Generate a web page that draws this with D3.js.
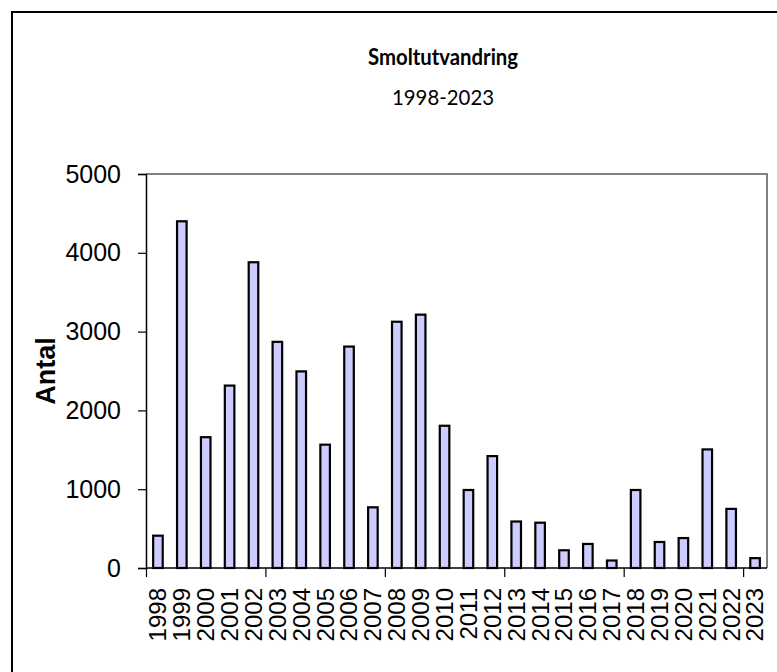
<!DOCTYPE html>
<html>
<head>
<meta charset="utf-8">
<script src="https://cdn.jsdelivr.net/npm/d3@7"></script>
<style>
  html, body { margin: 0; padding: 0; background: #fff; }
  svg { display: block; }
</style>
</head>
<body>
<svg id="chart" width="777" height="672"></svg>
<script>
const years = ["1998","1999","2000","2001","2002","2003","2004","2005","2006","2007","2008","2009","2010",
               "2011","2012","2013","2014","2015","2016","2017","2018","2019","2020","2021","2022","2023"];
const smolts = [410, 4400, 1660, 2315, 3880, 2870, 2495, 1565, 2810, 770, 3125, 3215, 1805,
                990, 1420, 590, 575, 225, 305, 95, 990, 330, 380, 1505, 750, 125];
const yTicks = [0, 1000, 2000, 3000, 4000, 5000];
const titleText = "Smoltutvandring";
const subtitleText = "1998-2023";
const yLabel = "Antal";

const svg = d3.select("#chart");
const plot = { left: 146, right: 767, top: 174, bottom: 568 };

// outer frame
svg.append("rect")
  .attr("x", 12).attr("y", 12).attr("width", 800).attr("height", 700)
  .attr("fill", "#fff").attr("stroke", "#000").attr("stroke-width", 2);

// titles
svg.append("text")
  .attr("x", 443).attr("y", 65)
  .attr("text-anchor", "middle")
  .attr("font-family", "Lato, 'Open Sans', sans-serif")
  .attr("font-weight", "bold").attr("font-size", 22)
  .attr("textLength", 150).attr("lengthAdjust", "spacingAndGlyphs")
  .text(titleText);
svg.append("text")
  .attr("x", 443).attr("y", 105)
  .attr("text-anchor", "middle")
  .attr("font-family", "Lato, 'Open Sans', sans-serif")
  .attr("font-size", 22)
  .attr("textLength", 102).attr("lengthAdjust", "spacingAndGlyphs")
  .text(subtitleText);

const x = d3.scaleBand().domain(years).range([plot.left, plot.right]).paddingInner(0.6).paddingOuter(0.3);
const xLin = d3.scaleLinear().domain([0, years.length]).range([plot.left, plot.right]);
const y = d3.scaleLinear().domain([0, 5000]).range([plot.bottom, plot.top]);

// plot frame (top & right gray)
svg.append("path")
  .attr("d", `M${plot.left},${plot.top}H${plot.right}V${plot.bottom}`)
  .attr("fill", "none").attr("stroke", "#808080").attr("stroke-width", 2);

// bars
svg.append("g").selectAll("rect")
  .data(years.map((yr, i) => ({ yr, v: smolts[i] })))
  .join("rect")
  .attr("x", d => x(d.yr))
  .attr("y", d => y(d.v))
  .attr("width", x.bandwidth())
  .attr("height", d => y(0) - y(d.v))
  .attr("fill", "#ccccff")
  .attr("stroke", "#000")
  .attr("stroke-width", 2.2);

// y axis
const yAxis = svg.append("g")
  .attr("transform", `translate(${plot.left},0)`)
  .call(d3.axisLeft(y).tickValues(yTicks).tickSize(8).tickPadding(17).tickFormat(d3.format("d")));
yAxis.select(".domain").attr("stroke", "#000").attr("stroke-width", 1.5);
yAxis.selectAll(".tick line").attr("stroke", "#000").attr("stroke-width", 1.2);
yAxis.selectAll("text")
  .attr("font-family", "Arial, 'Liberation Sans', sans-serif")
  .attr("font-size", 25).attr("fill", "#000");

// x axis: boundary ticks every 5 categories
const xAxis = svg.append("g")
  .attr("transform", `translate(0,${plot.bottom})`)
  .call(d3.axisBottom(xLin).tickValues([0, 5, 10, 15, 20, 25]).tickSize(9).tickFormat(""));
xAxis.select(".domain").attr("stroke", "#000").attr("stroke-width", 1.5).attr("d", `M${plot.left},0H${plot.right}`);
xAxis.selectAll(".tick line").attr("stroke", "#000").attr("stroke-width", 1.2);

// x labels
const xLab = svg.append("g")
  .attr("transform", `translate(0,${plot.bottom})`)
  .call(d3.axisBottom(x).tickSize(0).tickPadding(0));
xLab.select(".domain").remove();
xLab.selectAll("text")
  .attr("font-family", "Arial, 'Liberation Sans', sans-serif")
  .attr("font-size", 24).attr("fill", "#000")
  .attr("text-anchor", "end")
  .attr("dy", "0.35em")
  .attr("x", 0).attr("y", 0)
  .attr("transform", "translate(0,20) rotate(-90)");

// y label
svg.append("text")
  .attr("transform", "translate(55,371) rotate(-90)")
  .attr("text-anchor", "middle")
  .attr("font-family", "Arial, 'Liberation Sans', sans-serif")
  .attr("font-weight", "bold").attr("font-size", 27)
  .text(yLabel);
</script>
</body>
</html>
